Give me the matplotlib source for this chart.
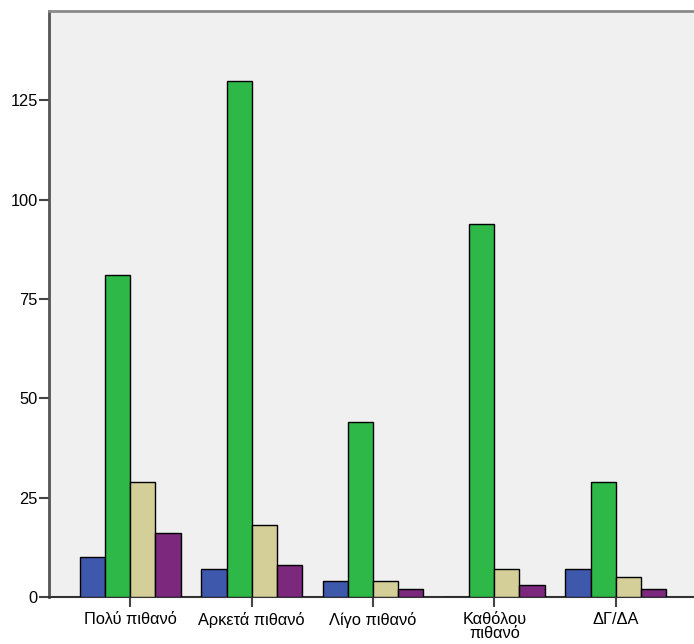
import numpy as np
import matplotlib
matplotlib.use('Agg')
import matplotlib.pyplot as plt

plt.rcParams['font.family'] = ['Liberation Sans', 'DejaVu Sans']

# data
categories = ['Πολύ πιθανό', 'Αρκετά πιθανό', 'Λίγο πιθανό', 'Καθόλου\nπιθανό', 'ΔΓ/ΔΑ']
blue = [10, 7, 4, 0, 7]
green = [81, 130, 44, 94, 29]
beige = [29, 18, 4, 7, 5]
purple = [16, 8, 2, 3, 2]
series = [blue, green, beige, purple]
colors = ['#3E58AC', '#2EB848', '#D4CE98', '#7B287D']
yticks = [0, 25, 50, 75, 100, 125]

fig = plt.figure(figsize=(6.94, 6.44), dpi=100)
ax = fig.add_axes([49/694, 1 - 597/644, 648/694, (597 - 11)/644])
ax.set_facecolor('#F0F0F0')

x = np.arange(len(categories))
w = 0.207
for i, (vals, c) in enumerate(zip(series, colors)):
    ax.bar(x + (i - 1.5)*w, vals, width=w, color=c, edgecolor='black', linewidth=1.0, zorder=3)

ax.set_xlim(-0.67, 4.67)
ax.set_ylim(0, 147.5)
ax.set_xticks(x)
ax.set_xticklabels(categories, fontsize=11.8, linespacing=0.95)
ax.set_yticks(yticks)
ax.tick_params(axis='y', direction='out', length=7, width=1.5, color='#444444', labelsize=11.8, pad=1)
ax.tick_params(axis='x', direction='out', length=7.5, width=1.5, color='#444444', labelsize=11.8, pad=3)

ax.spines['right'].set_visible(False)
ax.spines['left'].set_color('#555555')
ax.spines['left'].set_linewidth(2)
ax.spines['bottom'].set_color('#333333')
ax.spines['bottom'].set_linewidth(1.5)
ax.spines['top'].set_color('#8A8A8A')
ax.spines['top'].set_linewidth(2)

fig.savefig('out.png', dpi=100)
